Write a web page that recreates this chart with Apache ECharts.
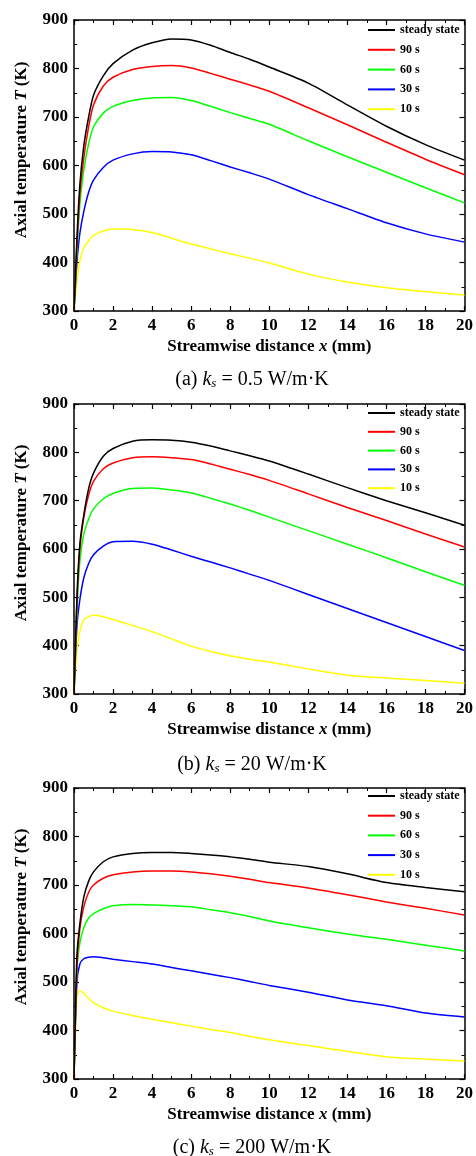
<!DOCTYPE html>
<html>
<head>
<meta charset="utf-8">
<script src="https://cdn.jsdelivr.net/npm/echarts@6/dist/echarts.min.js"></script>
<style>
  html, body { margin: 0; padding: 0; background: #fff; }
  #chart { width: 476px; height: 1156px; }
</style>
</head>
<body>
<div id="chart"></div>
<script>
// streamwise positions (mm) shared by all curves
var xs = [0, 0.15, 0.3, 0.5, 0.75, 1, 1.5, 2, 3, 4, 5, 6, 7, 8, 9, 10, 12, 14, 16, 18, 20];
var names = ['steady state', '90 s', '60 s', '30 s', '10 s'];
var colors = ['#000000', '#ff0000', '#00ff00', '#0000ff', '#ffff00'];
var xTicks = [0, 2, 4, 6, 8, 10, 12, 14, 16, 18, 20];
var yTicks = [300, 400, 500, 600, 700, 800, 900];

// (a) ks = 0.5
var aSteady = [300, 450, 560, 640, 700, 745, 785, 810, 838, 853, 861, 859, 848, 833, 819, 803, 770, 725, 681, 643, 611];
var a90 = [300, 435, 540, 615, 680, 725, 764, 782, 798, 804, 806, 801, 790, 778, 766, 753, 719, 684, 648, 613, 581];
var a60 = [300, 420, 520, 590, 645, 680, 708, 722, 734, 739, 740, 734, 722, 709, 697, 685, 651, 618, 586, 554, 523];
var a30 = [300, 400, 460, 505, 545, 570, 596, 611, 624, 629, 628, 622, 610, 597, 585, 572, 540, 511, 482, 459, 442];
var a10 = [300, 362, 403, 430, 445, 456, 465, 469, 468, 462, 450, 438, 428, 418, 409, 399, 376, 360, 348, 340, 333];

// (b) ks = 20
var bSteady = [300, 500, 610, 670, 725, 757, 792, 808, 823, 826, 825, 821, 813, 803, 793, 782, 755, 727, 700, 675, 649];
var b90 = [300, 490, 600, 665, 712, 740, 766, 778, 789, 791, 789, 785, 776, 765, 754, 742, 714, 686, 659, 631, 604];
var b60 = [300, 470, 575, 630, 662, 683, 704, 715, 725, 726, 722, 716, 705, 693, 680, 666, 638, 610, 582, 553, 525];
var b30 = [300, 440, 495, 540, 570, 588, 606, 615, 616, 610, 598, 585, 573, 561, 548, 535, 506, 477, 448, 419, 390];
var b10 = [300, 389, 430, 453, 460, 463, 460, 454, 442, 429, 414, 399, 388, 379, 372, 366, 352, 339, 333, 328, 322];

// (c) ks = 200
var cSteady = [300, 555, 620, 675, 708, 727, 748, 758, 765, 767, 767, 765, 762, 758, 753, 747, 738, 723, 705, 695, 686];
var c90 = [300, 530, 610, 655, 685, 700, 714, 721, 727, 729, 729, 727, 723, 718, 712, 705, 694, 680, 665, 652, 638];
var c60 = [300, 525, 580, 612, 632, 641, 651, 657, 660, 659, 657, 655, 649, 643, 635, 626, 612, 599, 588, 576, 564];
var c30 = [300, 500, 537, 548, 551, 552, 550, 547, 542, 537, 530, 523, 516, 509, 501, 493, 479, 463, 451, 436, 428];
var c10 = [300, 470, 482, 477, 466, 457, 447, 440, 431, 423, 416, 409, 402, 396, 388, 381, 369, 357, 346, 341, 337];

var panels = [
  { tag: '(a) ', ks: '0.5', top: 20, height: 291, legendTop: 24, gap: 7.8, yTitle: 150, caption: 378, data: [aSteady, a90, a60, a30, a10] },
  { tag: '(b) ', ks: '20', top: 404, height: 290, legendTop: 407, gap: 6.8, yTitle: 533, caption: 763, data: [bSteady, b90, b60, b30, b10] },
  { tag: '(c) ', ks: '200', top: 788, height: 291, legendTop: 790, gap: 7.7, yTitle: 917, caption: 1146, data: [cSteady, c90, c60, c30, c10] }
];

var font = 'Liberation Serif';
var lblStyle = { fontFamily: font, fontWeight: 'bold', fontSize: 17, color: '#000' };

var grid = [], xAxis = [], yAxis = [], series = [], legend = [], graphic = [];

panels.forEach(function (p, i) {
  grid.push({ left: 74, right: 9, top: p.top, height: p.height });
  var base = {
    gridIndex: i,
    axisLine: { show: true, onZero: false, lineStyle: { color: '#000', width: 1.5 } },
    axisTick: { show: true, inside: true, length: 5, lineStyle: { color: '#000', width: 1.2 } },
    minorTick: { show: true, splitNumber: 2, length: 3, lineStyle: { color: '#000', width: 1 } },
    splitLine: { show: false }
  };
  xAxis.push(Object.assign({}, base, {
    type: 'value', position: 'bottom', min: xTicks[0], max: xTicks[xTicks.length - 1], interval: 2,
    axisLabel: Object.assign({ margin: 6 }, lblStyle),
    name: '{b|Streamwise distance }{i|x}{b| (mm)}',
    nameLocation: 'middle', nameGap: 27,
    nameTextStyle: {
      rich: {
        b: { fontFamily: font, fontWeight: 'bold', fontSize: 17, color: '#000' },
        i: { fontFamily: font, fontWeight: 'bold', fontStyle: 'italic', fontSize: 17, color: '#000' }
      }
    }
  }));
  xAxis.push(Object.assign({}, base, {
    type: 'value', position: 'top', min: xTicks[0], max: xTicks[xTicks.length - 1], interval: 2,
    axisLabel: { show: false }
  }));
  yAxis.push(Object.assign({}, base, {
    type: 'value', position: 'left', min: yTicks[0], max: yTicks[yTicks.length - 1], interval: 100,
    axisLabel: Object.assign({ margin: 6 }, lblStyle)
  }));
  yAxis.push(Object.assign({}, base, {
    type: 'value', position: 'right', min: yTicks[0], max: yTicks[yTicks.length - 1], interval: 100,
    axisLabel: { show: false }
  }));

  p.data.forEach(function (arr, k) {
    series.push({
      name: names[k],
      type: 'line',
      xAxisIndex: 2 * i,
      yAxisIndex: 2 * i,
      symbol: 'none',
      smooth: 0.25,
      color: colors[k],
      lineStyle: { color: colors[k], width: 1.5 },
      z: 10 - k,
      data: xs.map(function (x, j) { return [x, arr[j]]; })
    });
  });

  legend.push({
    orient: 'vertical',
    left: 367,
    top: p.legendTop,
    itemWidth: 27,
    itemHeight: 12,
    itemGap: p.gap,
    padding: 0,
    selectedMode: false,
    data: names,
    itemStyle: { opacity: 0 },
    lineStyle: { width: 2 },
    textStyle: { fontFamily: font, fontWeight: 'bold', fontSize: 12, color: '#000' }
  });

  graphic.push({
    type: 'text',
    x: 22, y: p.yTitle,
    rotation: Math.PI / 2,
    style: {
      text: '{b|Axial temperature }{i|T}{b| (K)}',
      align: 'center', verticalAlign: 'middle',
      rich: {
        b: { fontFamily: font, fontWeight: 'bold', fontSize: 17, fill: '#000' },
        i: { fontFamily: font, fontWeight: 'bold', fontStyle: 'italic', fontSize: 17, fill: '#000' }
      }
    }
  });
  graphic.push({
    type: 'text',
    x: 252, y: p.caption,
    style: {
      text: '{n|' + p.tag + '}{i|k}{s|s}{n| = ' + p.ks + ' W/m·K}',
      align: 'center', verticalAlign: 'middle',
      rich: {
        n: { fontFamily: font, fontSize: 20, fill: '#000', lineHeight: 24, verticalAlign: 'bottom' },
        i: { fontFamily: font, fontStyle: 'italic', fontSize: 20, fill: '#000', lineHeight: 24, verticalAlign: 'bottom' },
        s: { fontFamily: font, fontStyle: 'italic', fontSize: 13, fill: '#000', lineHeight: 12, verticalAlign: 'bottom' }
      }
    }
  });
});

var myChart = echarts.init(document.getElementById('chart'));
myChart.setOption({
  animation: false,
  backgroundColor: '#fff',
  grid: grid,
  xAxis: xAxis,
  yAxis: yAxis,
  legend: legend,
  graphic: graphic,
  series: series
});
window.onresize = myChart.resize;
</script>
</body>
</html>
